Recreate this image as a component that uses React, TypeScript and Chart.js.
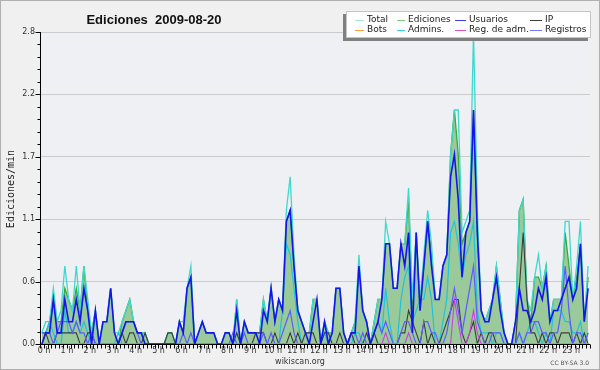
import React, { useEffect, useRef } from 'react';
import { Chart, registerables } from 'chart.js';

Chart.register(...registerables);

// Edits per 10-minute bin (144 bins = 24 h); plotted as edits/min (value / 10)
const hourLabels = ['0 h','1 h','2 h','3 h','4 h','5 h','6 h','7 h','8 h','9 h','10 h','11 h',
  '12 h','13 h','14 h','15 h','16 h','17 h','18 h','19 h','20 h','21 h','22 h','23 h'];
const yTickValues = [0, 0.56, 1.12, 1.68, 2.24, 2.8];
const yTickLabels = ['0.0', '0.6', '1.1', '1.7', '2.2', '2.8'];

const total = [
  1,2,2,5,2,3, 7,4,3,7,3,7, 4,1,3,0,2,2, 5,1,1,2,3,4, 2,1,1,1,0,0, 0,0,0,1,1,0,
  2,2,5,7,0,1, 2,1,1,1,0,0, 1,1,0,4,0,2, 1,1,1,1,4,2, 5,2,4,3,12,15, 8,3,2,1,1,4,
  4,0,2,1,1,5, 5,1,0,1,2,8, 3,2,0,2,4,4, 11,9,5,5,9,9, 14,4,10,4,8,12, 9,4,4,7,8,17,
  21,21,10,11,12,28, 12,3,2,3,4,7, 4,1,0,0,2,12, 13,4,3,6,8,5, 7,2,4,4,4,11, 11,4,7,11,2,7,
];
const ediciones = [
  1,1,2,4,2,2, 5,4,3,5,3,7, 3,1,3,0,2,2, 5,1,0,2,3,4, 2,1,1,1,0,0, 0,0,0,1,1,0,
  2,1,5,6,0,1, 2,1,1,1,0,0, 1,1,0,4,0,2, 1,1,1,1,4,2, 5,2,4,3,11,12, 7,3,2,1,1,4,
  4,0,2,1,1,5, 5,1,0,1,2,7, 3,2,0,2,4,4, 9,9,5,5,9,9, 13,3,10,3,7,11, 8,4,4,7,8,17,
  21,17,9,10,11,21, 10,3,2,3,4,7, 4,1,0,0,2,12, 13,4,2,6,6,5, 7,2,4,4,4,10, 7,4,6,9,2,6,
];
const usuarios = [
  0,1,1,4,1,1, 4,2,2,4,2,5, 3,0,3,0,2,2, 5,1,0,1,2,2, 2,1,1,0,0,0, 0,0,0,0,0,0,
  2,1,5,6,0,1, 2,1,1,1,0,0, 1,1,0,3,0,2, 1,1,1,0,3,2, 5,2,4,3,11,12, 7,3,2,1,0,2,
  4,0,2,0,1,5, 5,1,0,1,1,7, 3,2,0,1,2,4, 9,9,5,5,9,7, 10,1,10,3,7,11, 7,4,4,7,8,15,
  17,13,6,10,11,21, 10,3,2,2,4,6, 3,1,0,0,2,5, 3,3,2,3,5,4, 6,2,3,3,4,5, 6,4,5,9,2,5,
];
const ip = [
  0,1,0,0,1,1, 1,1,1,1,0,0, 1,1,0,0,0,0, 0,0,0,1,0,1, 1,0,0,1,0,0, 0,0,0,1,1,0,
  0,0,0,0,0,0, 0,0,0,0,0,0, 0,0,0,1,0,0, 0,0,1,1,1,0, 0,1,0,0,0,1, 0,1,0,1,1,1,
  0,0,1,1,0,0, 1,0,0,1,0,0, 0,1,0,1,0,0, 0,0,0,0,1,1, 3,2,1,0,2,0, 1,0,0,1,2,3,
  4,4,1,0,1,2, 0,1,0,1,1,0, 0,0,0,0,0,5, 10,4,1,1,0,1, 0,1,1,0,1,1, 1,0,1,0,1,0,
];
const bots = [
  0,0,0,0,0,0, 0,0,0,0,0,0, 0,0,0,0,0,0, 0,0,0,0,0,0, 0,0,0,0,0,0, 0,0,0,0,0,0,
  0,0,0,0,0,0, 0,0,0,0,0,0, 0,0,0,0,0,0, 0,0,0,0,0,0, 0,0,0,0,0,0, 0,0,0,0,0,0,
  0,0,0,0,0,0, 0,0,0,0,0,0, 0,0,0,0,0,0, 0,0,0,0,0,0, 0,0,0,0,0,0, 0,0,0,0,0,0,
  0,0,0,0,0,0, 0,0,0,0,0,0, 0,0,0,0,0,0, 0,0,0,0,0,0, 0,0,0,0,0,0, 0,0,0,0,0,0,
];
const admins = [
  1,1,2,1,0,0, 3,1,1,2,1,2, 1,0,0,0,0,0, 0,0,1,0,0,0, 0,0,0,0,0,0, 0,0,0,0,0,0,
  0,0,0,0,0,0, 0,0,0,0,0,0, 0,0,0,1,0,0, 0,0,0,0,0,0, 0,0,0,3,9,8, 5,2,0,0,0,0,
  0,0,1,0,0,0, 0,0,0,0,1,1, 0,0,0,1,2,1, 5,2,0,0,4,6, 7,2,3,4,4,6, 4,0,0,2,4,10,
  11,9,6,8,9,11, 3,1,1,1,0,1, 1,0,0,0,0,1, 0,1,2,2,1,0, 1,0,3,3,3,2, 2,1,1,2,0,1,
];
const regAdm = [
  0,0,0,0,0,0, 0,0,0,0,0,0, 0,0,0,0,0,0, 0,0,0,0,0,0, 0,0,0,0,0,0, 0,0,0,0,0,0,
  0,0,0,0,0,0, 0,0,0,0,0,0, 0,0,0,0,0,0, 0,0,0,0,0,0, 0,0,0,0,0,0, 0,0,0,0,0,0,
  0,0,0,0,0,0, 0,0,0,0,0,0, 0,0,0,0,0,0, 1,0,0,0,0,0, 1,0,0,0,0,0, 0,0,0,0,0,0,
  4,2,0,0,1,3, 1,0,0,0,0,0, 0,0,0,0,0,0, 0,0,0,0,0,0, 0,0,0,0,0,0, 0,0,0,0,0,0,
];
const registros = [
  1,1,1,0,1,2, 2,2,1,2,1,1, 0,1,0,0,0,0, 0,0,0,1,2,2, 2,1,0,0,0,0, 0,0,0,0,0,0,
  0,1,0,1,0,0, 0,0,0,0,0,0, 0,0,1,0,0,1, 0,0,0,0,1,0, 1,0,0,1,2,3, 1,0,0,0,0,0,
  0,0,0,0,0,0, 0,0,0,1,1,0, 1,0,0,1,2,1, 2,1,0,0,1,2, 2,1,0,0,2,2, 1,1,0,0,1,3,
  5,3,1,3,5,7, 2,1,0,0,1,1, 1,0,0,0,0,1, 0,1,1,2,2,1, 1,0,1,1,3,7, 3,0,1,1,0,1,
];

const seriesLabels = ['Total', 'Ediciones', 'Usuarios', 'IP', 'Bots', 'Admins.', 'Reg. de adm.', 'Registros'];
const lineColors = ['#3fd8cc', '#3aa83a', '#1414ee', '#3c3c3c', '#ff9933', '#1fc3da', '#cf3fdf', '#5c5cff'];
const legendColors = ['#a9e6e2', '#7fcb7f', '#3a3ae6', '#3a3a3a', '#ff9a33', '#38cfdf', '#dd4ddd', '#7a7aff'];

const toPoints = (arr: number[]) => arr.map((n, i) => ({ x: i + 0.5, y: n / 10 }));

const decor = {
  id: 'decor',
  beforeDraw(chart: any) {
    const { ctx, chartArea: a } = chart;
    ctx.save();
    ctx.fillStyle = '#f0f0f0';
    ctx.fillRect(0, 0, chart.width, chart.height);
    ctx.strokeStyle = '#b0b0b0';
    ctx.lineWidth = 1;
    ctx.strokeRect(0.5, 0.5, chart.width - 1, chart.height - 1);
    ctx.fillStyle = '#eef0f3';
    ctx.fillRect(a.left, a.top, a.right - a.left, a.bottom - a.top);
    ctx.restore();
  },
  afterDatasetsDraw(chart: any) {
    const { ctx, chartArea: a, scales } = chart;
    const xs = scales.x, ys = scales.y;
    ctx.save();
    ctx.strokeStyle = '#000';
    ctx.lineWidth = 1;
    ctx.beginPath();
    const ax = Math.round(a.left) + 0.5;
    const ay = Math.round(a.bottom) + 0.5;
    ctx.moveTo(ax, a.top);
    ctx.lineTo(ax, ay);
    ctx.lineTo(a.right, ay);
    // y ticks: major every 0.56, minor every 0.112
    for (let k = 0; k <= 25; k++) {
      const py = Math.round(ys.getPixelForValue(k * 0.112)) + 0.5;
      const len = k % 5 === 0 ? 5 : 3;
      ctx.moveTo(ax - len, py);
      ctx.lineTo(ax, py);
    }
    // x ticks every 10 minutes
    for (let k = 0; k <= 144; k++) {
      const px = Math.round(xs.getPixelForValue(k)) + 0.5;
      ctx.moveTo(px, ay);
      ctx.lineTo(px, ay + 4);
    }
    ctx.stroke();
    ctx.restore();
  },
  afterDraw(chart: any) {
    const { ctx } = chart;
    ctx.save();
    // Title
    ctx.fillStyle = '#111';
    ctx.font = 'bold 13px "Liberation Sans", "DejaVu Sans", sans-serif';
    ctx.textAlign = 'center';
    ctx.textBaseline = 'alphabetic';
    ctx.fillText('Ediciones  2009-08-20', 154, 24);
    // Y axis title
    ctx.save();
    ctx.translate(11, 189);
    ctx.rotate(-Math.PI / 2);
    ctx.font = '10px "DejaVu Sans Mono", monospace';
    ctx.fillStyle = '#222';
    ctx.textBaseline = 'middle';
    ctx.fillText('Ediciones/min', 0, 0);
    ctx.restore();
    // Footer
    ctx.font = '8px "DejaVu Sans", sans-serif';
    ctx.fillStyle = '#333';
    ctx.textBaseline = 'middle';
    ctx.fillText('wikiscan.org', 300, 362);
    ctx.font = '6px "DejaVu Sans", sans-serif';
    ctx.fillStyle = '#555';
    ctx.textAlign = 'right';
    ctx.fillText('CC BY-SA 3.0', 589, 363);
    // Legend box with shadow
    ctx.fillStyle = '#808080';
    ctx.fillRect(343, 14, 245, 27);
    ctx.fillStyle = '#ffffff';
    ctx.fillRect(346, 11, 245, 27);
    ctx.strokeStyle = '#c4c4c4';
    ctx.strokeRect(346.5, 11.5, 244, 26);
    const lineX = [355, 397, 455, 530];
    const textX = [367, 408, 469, 545];
    const rowY = [19.5, 29.5];
    ctx.font = '9px "DejaVu Sans", sans-serif';
    ctx.textAlign = 'left';
    ctx.textBaseline = 'middle';
    seriesLabels.forEach((lab, i) => {
      const col = i % 4, row = Math.floor(i / 4);
      const y = rowY[row];
      ctx.strokeStyle = legendColors[i];
      ctx.lineWidth = 1;
      ctx.beginPath();
      ctx.moveTo(lineX[col], Math.round(y) + 0.5);
      ctx.lineTo(textX[col] - 3, Math.round(y) + 0.5);
      ctx.stroke();
      ctx.fillStyle = '#222';
      ctx.fillText(lab, textX[col], y);
    });
    ctx.restore();
  },
};

export default function App() {
  const ref = useRef<HTMLCanvasElement>(null);
  useEffect(() => {
    const canvas = ref.current!;
    const tickFont = { family: '"DejaVu Sans", sans-serif', size: 8 };
    const mk = (idx: number, arr: number[], width: number, order: number, fillColor?: string) => ({
      label: seriesLabels[idx],
      data: toPoints(arr),
      borderColor: lineColors[idx],
      backgroundColor: fillColor || 'transparent',
      borderWidth: width,
      pointRadius: 0,
      tension: 0,
      fill: fillColor ? 'origin' : false,
      order,
    });
    const chart = new Chart(canvas, {
      type: 'line',
      data: {
        datasets: [
          mk(1, ediciones, 1.3, 10, '#9aca9a'),
          mk(0, total, 1.3, 9),
          mk(5, admins, 1.2, 8),
          mk(3, ip, 1.1, 7),
          mk(6, regAdm, 1.1, 6),
          mk(7, registros, 1.2, 5),
          mk(4, bots, 1.1, 4),
          mk(2, usuarios, 1.6, 1),
        ] as any,
      },
      options: {
        responsive: false,
        animation: false,
        devicePixelRatio: 1,
        events: [],
        layout: { padding: { top: 32, right: 10, left: 0, bottom: 0 } },
        plugins: { legend: { display: false }, tooltip: { enabled: false }, title: { display: false } },
        scales: {
          x: {
            type: 'linear',
            min: 0,
            max: 144,
            afterFit: (s: any) => { s.height = 26; },
            afterBuildTicks: (s: any) => { s.ticks = hourLabels.map((_, h) => ({ value: h * 6 })); },
            grid: { display: false, drawTicks: false, tickLength: 0 },
            border: { display: false },
            ticks: {
              callback: (_v: any, i: number) => hourLabels[i],
              font: tickFont,
              color: '#333',
              padding: 2,
              labelOffset: 4,
              maxRotation: 0,
              autoSkip: false,
            },
          },
          y: {
            min: 0,
            max: 2.8,
            afterFit: (s: any) => { s.width = 40; },
            afterBuildTicks: (s: any) => { s.ticks = yTickValues.map((v) => ({ value: v })); },
            grid: { color: '#cbcbcb', drawTicks: false, tickLength: 0, lineWidth: 1 },
            border: { display: false },
            ticks: {
              callback: (_v: any, i: number) => yTickLabels[i],
              font: tickFont,
              color: '#333',
              padding: 5,
            },
          },
        },
      } as any,
      plugins: [decor],
    });
    return () => chart.destroy();
  }, []);
  return (
    <div style={{ position: 'fixed', left: 0, top: 0, width: 600, height: 370 }}>
      <canvas ref={ref} width={600} height={370} style={{ display: 'block', width: 600, height: 370 }} />
    </div>
  );
}
